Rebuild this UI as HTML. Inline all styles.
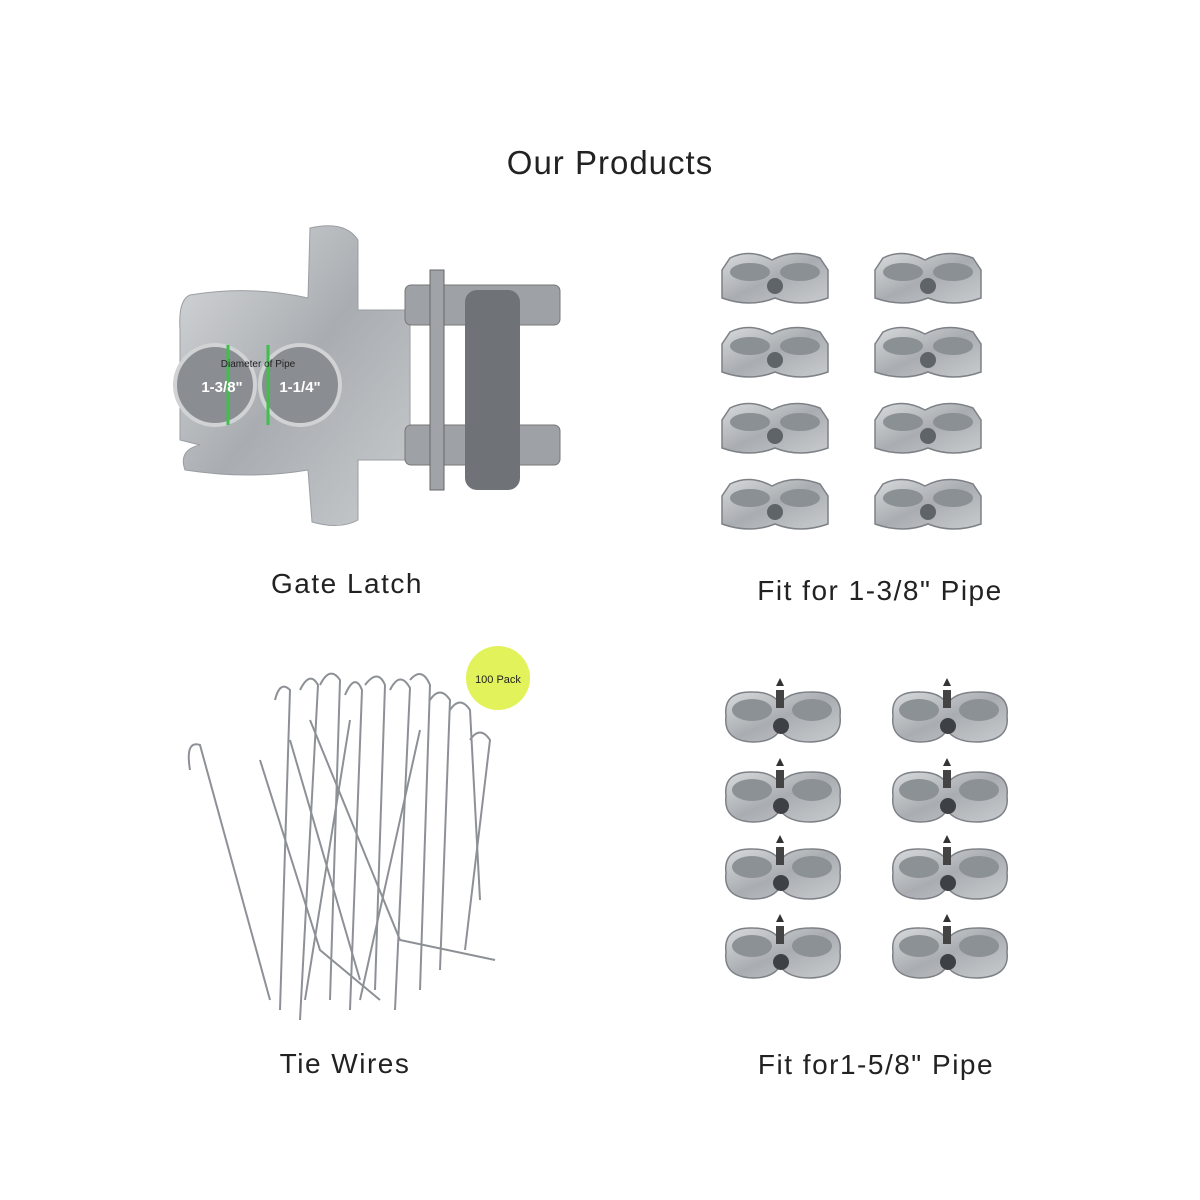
<!DOCTYPE html>
<html><head><meta charset="utf-8"><style>
html,body{margin:0;padding:0;background:#fff;width:1200px;height:1200px;overflow:hidden}
svg{display:block}
text{font-family:"Liberation Sans","DejaVu Sans",sans-serif;fill:#222}
</style></head><body>
<svg width="1200" height="1200" viewBox="0 0 1200 1200">
<defs>
<linearGradient id="m" x1="0" y1="0" x2="1" y2="1">
<stop offset="0" stop-color="#d8dadc"/><stop offset="0.5" stop-color="#a9adb1"/><stop offset="1" stop-color="#c8cbce"/></linearGradient>
<g id="c1">
<path d="M10,8 Q30,-2 52,10 Q74,-2 100,8 L108,20 L108,48 Q80,58 55,48 Q30,58 2,48 L2,20 Z" fill="url(#m)" stroke="#7d8186" stroke-width="1.5"/>
<ellipse cx="30" cy="22" rx="20" ry="9" fill="#8b9095"/>
<ellipse cx="80" cy="22" rx="20" ry="9" fill="#8b9095"/>
<circle cx="55" cy="36" r="8" fill="#5f6468"/>
</g>
<g id="c2">
<path d="M8,30 Q5,5 35,6 Q55,6 62,18 Q70,6 92,6 Q125,5 122,30 Q125,55 92,56 Q70,56 62,44 Q55,56 35,56 Q5,55 8,30 Z" fill="url(#m)" stroke="#7d8186" stroke-width="1.5"/>
<ellipse cx="34" cy="24" rx="20" ry="11" fill="#8c9196"/>
<ellipse cx="94" cy="24" rx="20" ry="11" fill="#8c9196"/>
<path d="M58,0 L66,0 L62,-8 Z" fill="#333"/>
<rect x="58" y="4" width="8" height="18" fill="#444"/>
<circle cx="63" cy="40" r="8" fill="#3d4145"/>
</g>
</defs>

<text x="610" y="174" font-size="33" letter-spacing="1" text-anchor="middle">Our Products</text>

<path d="M310,228 Q345,220 358,240 L358,310 L410,310 L410,460 L358,460 L358,520 Q340,530 312,522 L308,470 Q250,480 185,470 Q178,450 200,445 L180,440 L180,330 Q178,300 190,295 Q250,285 308,298 Z" fill="url(#m)" stroke="#9a9ea2"/>
<circle cx="215" cy="385" r="40" fill="#8a8e92" stroke="#d0d2d4" stroke-width="4"/>
<circle cx="300" cy="385" r="40" fill="#8a8e92" stroke="#d0d2d4" stroke-width="4"/>
<line x1="228" y1="345" x2="228" y2="425" stroke="#3ec04a" stroke-width="3"/>
<line x1="268" y1="345" x2="268" y2="425" stroke="#3ec04a" stroke-width="3"/>
<text x="222" y="392" font-size="15" font-weight="bold" text-anchor="middle" style="fill:#fff">1-3/8"</text>
<text x="300" y="392" font-size="15" font-weight="bold" text-anchor="middle" style="fill:#fff">1-1/4"</text>
<text x="258" y="367" font-size="10" text-anchor="middle">Diameter of Pipe</text>
<rect x="405" y="285" width="155" height="40" rx="6" fill="#9ea2a6" stroke="#777"/>
<rect x="405" y="425" width="155" height="40" rx="6" fill="#9ea2a6" stroke="#777"/>
<rect x="465" y="290" width="55" height="200" rx="12" fill="#6f7377"/>
<rect x="430" y="270" width="14" height="220" fill="#a0a4a8" stroke="#666"/>
<text x="347" y="593" font-size="28" letter-spacing="1.5" text-anchor="middle">Gate Latch</text>

<use href="#c1" x="720" y="250"/><use href="#c1" x="873" y="250"/>
<use href="#c1" x="720" y="324"/><use href="#c1" x="873" y="324"/>
<use href="#c1" x="720" y="400"/><use href="#c1" x="873" y="400"/>
<use href="#c1" x="720" y="476"/><use href="#c1" x="873" y="476"/>
<text x="880" y="600" font-size="28" letter-spacing="1.5" text-anchor="middle">Fit for 1-3/8" Pipe</text>

<g stroke="#8d9196" stroke-width="2" fill="none">
<path d="M190,770 Q185,740 200,745 L270,1000"/>
<path d="M275,700 Q280,680 290,690 L280,1010"/>
<path d="M300,690 Q310,670 318,685 L300,1020"/>
<path d="M320,685 Q330,665 340,680 L330,1000"/>
<path d="M345,695 Q355,672 362,690 L350,1010"/>
<path d="M365,685 Q378,668 385,685 L375,990"/>
<path d="M390,690 Q400,670 410,688 L395,1010"/>
<path d="M410,680 Q422,666 430,685 L420,990"/>
<path d="M430,700 Q440,685 450,700 L440,970"/>
<path d="M450,710 Q460,695 470,710 L480,900"/>
<path d="M470,740 Q480,725 490,740 L465,950"/>
<path d="M260,760 L320,950 L380,1000"/>
<path d="M310,720 L400,940 L495,960"/>
<path d="M290,740 L360,980"/>
<path d="M350,720 L305,1000"/>
<path d="M420,730 L360,1000"/>
</g>
<circle cx="498" cy="678" r="32" fill="#e2f25a"/>
<text x="498" y="683" font-size="11" text-anchor="middle">100 Pack</text>
<text x="345" y="1073" font-size="28" letter-spacing="1.5" text-anchor="middle">Tie Wires</text>

<use href="#c2" x="718" y="686"/><use href="#c2" x="885" y="686"/>
<use href="#c2" x="718" y="766"/><use href="#c2" x="885" y="766"/>
<use href="#c2" x="718" y="843"/><use href="#c2" x="885" y="843"/>
<use href="#c2" x="718" y="922"/><use href="#c2" x="885" y="922"/>
<text x="876" y="1074" font-size="28" letter-spacing="1.5" text-anchor="middle">Fit for1-5/8" Pipe</text>
</svg>
</body></html>
